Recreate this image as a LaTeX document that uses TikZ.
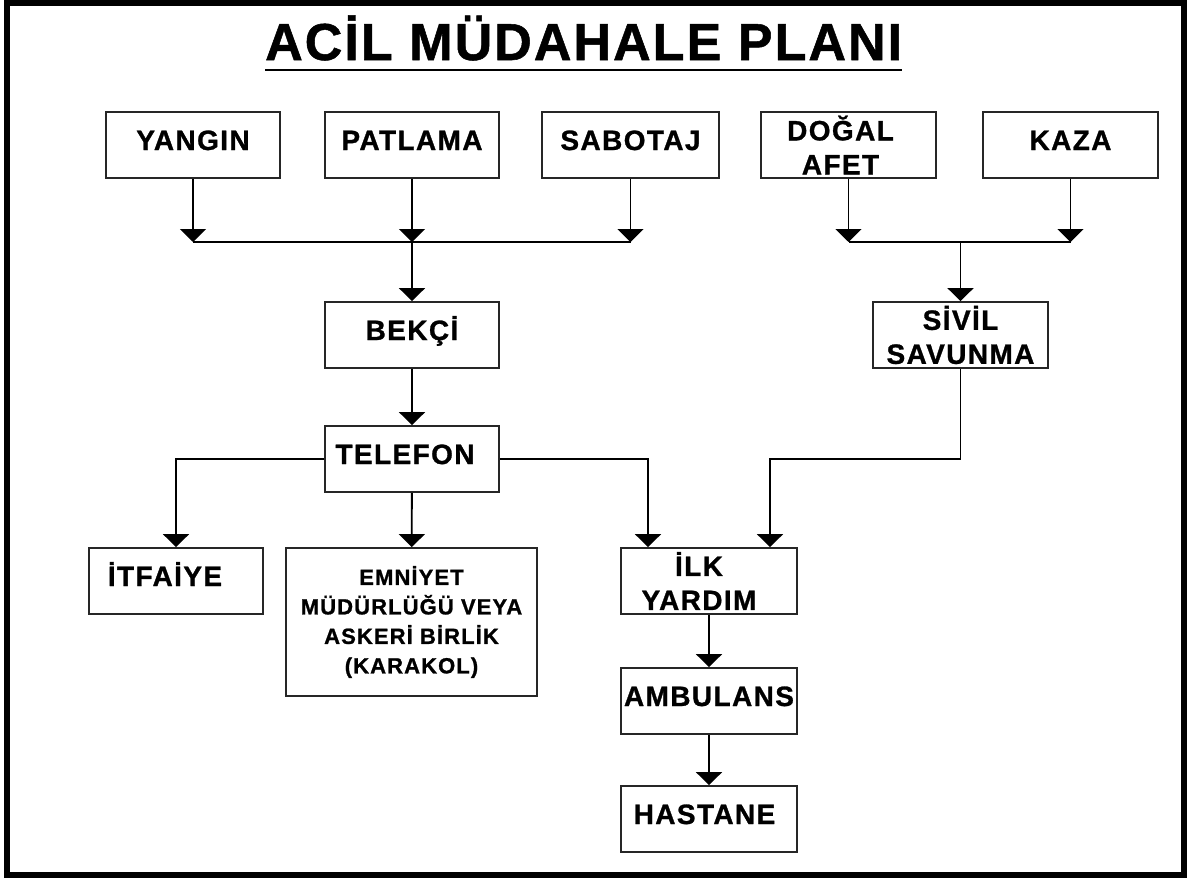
\documentclass[tikz,border=0pt]{standalone}
\usepackage{fontspec}
\setmainfont{Liberation Sans}
\newfontfamily\boxfont[LetterSpace=5,FakeBold=1]{Liberation Sans Bold}
\newfontfamily\titlefont[LetterSpace=4,FakeBold=1]{Liberation Sans Bold}
\usepackage{tikz}
\usetikzlibrary{arrows.meta,positioning,calc}

\tikzset{
    planbox/.style={draw=black!85, line width=1.8pt, fill=white, inner sep=0pt,
        minimum width=174pt, minimum height=66pt, align=center,
        font=\boxfont\fontsize{28}{34}\selectfont},
    oneline/.style={text height=38pt, text depth=28pt},
    flow/.style={line width=1.8pt, -{Triangle[length=13pt,width=26pt]}},
    joinline/.style={line width=1.8pt}
}

\begin{document}
\begin{tikzpicture}[x=1pt,y=-1pt]
    \useasboundingbox (0,0) rectangle (1187,878);
    \draw[line width=6pt] (6.5,3) rectangle (1184,875);

    % Title
    \node[anchor=base west, inner sep=0pt, font=\titlefont\fontsize{52}{60}\selectfont]
        (title) at (265,60) {ACİL MÜDAHALE PLANI};
    \draw[line width=2.5pt] ([yshift=-10pt]title.base west) -- ([yshift=-10pt]title.base east);

    % Emergency types
    \node[planbox, oneline] (yangin) at (193,145) {YANGIN};
    \node[planbox, oneline] (patlama) at (412,145) {PATLAMA};
    \node[planbox, oneline, minimum width=177pt] (sabotaj) at (630.5,145) {SABOTAJ};
    \node[planbox, minimum width=175pt] (dogal) at (848.5,145) {DOĞAL\hspace*{16pt}\\AFET\hspace*{16pt}};
    \node[planbox, oneline, minimum width=175pt] (kaza) at (1070.5,145) {KAZA};

    % Who is called
    \node[planbox, oneline] (bekci) at (412,335) {BEKÇİ};
    \node[planbox, minimum width=175pt] (sivil) at (960.5,335) {SİVİL\\SAVUNMA};
    \node[planbox, oneline] (telefon) at (412,459) {TELEFON\hspace*{14pt}};
    \node[planbox, oneline] (itfaiye) at (176,581) {İTFAİYE\hspace*{22pt}};
    \node[planbox, minimum width=251pt, minimum height=148pt,
        font=\boxfont\fontsize{22}{29.5}\selectfont]
        (emniyet) at (411.5,622) {EMNİYET\\MÜDÜRLÜĞÜ VEYA\\ASKERİ BİRLİK\\(KARAKOL)};
    \node[planbox, minimum width=176pt] (ilk) at (709,581) {İLK\hspace*{20pt}\\YARDIM\hspace*{20pt}};
    \node[planbox, oneline, minimum width=176pt] (ambulans) at (709,701) {AMBULANS};
    \node[planbox, oneline, minimum width=176pt] (hastane) at (709,819) {HASTANE\hspace*{9pt}};

    % Collecting lines
    \coordinate (jleft) at (412,242);
    \coordinate (jright) at (960.5,242);
    \foreach \n in {yangin,patlama,sabotaj}
        \draw[flow] (\n.south) -- (\n.south |- jleft);
    \draw[joinline] (yangin.south |- jleft) -- (sabotaj.south |- jleft);
    \draw[flow] (jleft) -- (bekci.north);
    \foreach \n in {dogal,kaza}
        \draw[flow] (\n.south) -- (\n.south |- jright);
    \draw[joinline] (dogal.south |- jright) -- (kaza.south |- jright);
    \draw[flow] (jright) -- (sivil.north);

    % Calls
    \coordinate (ilkL) at ([xshift=-61pt]ilk.north);
    \coordinate (ilkR) at ([xshift=61pt]ilk.north);
    \draw[flow] (bekci) -- (telefon);
    \draw[flow] (telefon.west) -| (itfaiye.north);
    \draw[flow] (telefon) -- (emniyet);
    \draw[flow] (telefon.east) -| (ilkL);
    \draw[flow] (sivil.south) -- (sivil.south |- telefon.east) -| (ilkR);
    \draw[flow] (ilk) -- (ambulans);
    \draw[flow] (ambulans) -- (hastane);
\end{tikzpicture}
\end{document}
